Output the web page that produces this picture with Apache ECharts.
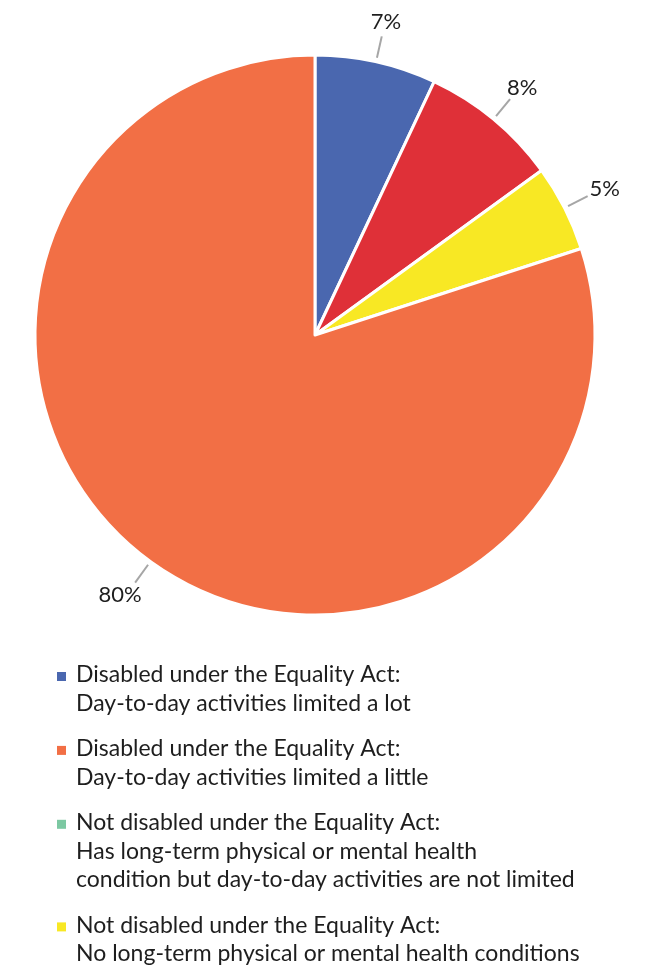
<!DOCTYPE html>
<html>
<head>
<meta charset="utf-8">
<script src="https://cdn.jsdelivr.net/npm/echarts@6/dist/echarts.min.js"></script>
<style>
  html, body { margin: 0; padding: 0; background: #fff; }
  #chart { width: 646px; height: 978px; }
</style>
</head>
<body>
<div id="chart"></div>
<script>
// Survey categories (in slice order, clockwise from 12 o'clock)
const categories = [
  'Disabled under the Equality Act:\nDay-to-day activities limited a lot',
  'Disabled under the Equality Act:\nDay-to-day activities limited a little',
  'Not disabled under the Equality Act:\nHas long-term physical or mental health\ncondition but day-to-day activities are not limited',
  'Not disabled under the Equality Act:\nNo long-term physical or mental health conditions'
];
// Share of respondents, percent
const values = [7, 8, 5, 80];
// Fill used for each slice
const sliceColors = ['#4A67AF', '#DF3038', '#F8E824', '#F26F45'];
// Swatch shown beside each key entry
const keyColors = ['#4A67AF', '#F26F45', '#7CC8A2', '#F8E824'];

const FONT = 'Lato, "Open Sans", sans-serif';
const TEXT = '#1e1e1e';
const CENTER = [315, 335];
const RADIUS = 280;

const chart = echarts.init(document.getElementById('chart'), null, { renderer: 'canvas' });

// Key below the pie: swatch + multi-line description per category
const keyX = 57, textX = 76, firstBaseline = 683, lineH = 28.7, itemGap = 16.5;
const keyFont = 23;
const keyGraphics = [];
let baseline = firstBaseline;
categories.forEach((name, i) => {
  const lines = name.split('\n').length;
  keyGraphics.push({
    type: 'rect',
    shape: { x: keyX, y: baseline - 11, width: 9, height: 9 },
    style: { fill: keyColors[i] },
    silent: true
  });
  keyGraphics.push({
    type: 'text',
    x: textX,
    y: baseline - (lineH / 2 + 0.355 * keyFont),
    style: {
      text: name,
      fill: TEXT,
      font: keyFont + 'px ' + FONT,
      lineHeight: lineH,
      verticalAlign: 'top'
    },
    silent: true
  });
  baseline += lines * lineH + itemGap;
});

// Short radial leader that starts just off the rim; the value sits past its end
function placeLabel(params) {
  const p0 = params.labelLinePoints[0];
  const dx = p0[0] - CENTER[0], dy = p0[1] - CENTER[1];
  const len = Math.sqrt(dx * dx + dy * dy) || 1;
  const ux = dx / len, uy = dy / len;
  const start = [CENTER[0] + ux * (RADIUS + 4), CENTER[1] + uy * (RADIUS + 4)];
  const end = [CENTER[0] + ux * (RADIUS + 26), CENTER[1] + uy * (RADIUS + 26)];
  const w = params.labelRect.width;
  const gap = 4;
  return {
    x: end[0] + ux * (w / 2 + gap),
    y: end[1] + uy * (11 + gap),
    align: 'center',
    verticalAlign: 'middle',
    labelLinePoints: [start, end, end]
  };
}

chart.setOption({
  backgroundColor: '#ffffff',
  animation: false,
  series: [{
    type: 'pie',
    center: CENTER,
    radius: RADIUS,
    startAngle: 90,
    clockwise: true,
    avoidLabelOverlap: false,
    itemStyle: { borderColor: '#ffffff', borderWidth: 3 },
    label: {
      show: true,
      position: 'outside',
      formatter: '{c}%',
      color: TEXT,
      fontFamily: FONT,
      fontSize: 22
    },
    labelLine: {
      show: true,
      length: 20,
      length2: 2,
      lineStyle: { color: '#A6A6A6', width: 2 }
    },
    labelLayout: placeLabel,
    emphasis: { disabled: true },
    data: categories.map((name, i) => ({
      name: name,
      value: values[i],
      itemStyle: { color: sliceColors[i] }
    }))
  }],
  graphic: keyGraphics
});
</script>
</body>
</html>
